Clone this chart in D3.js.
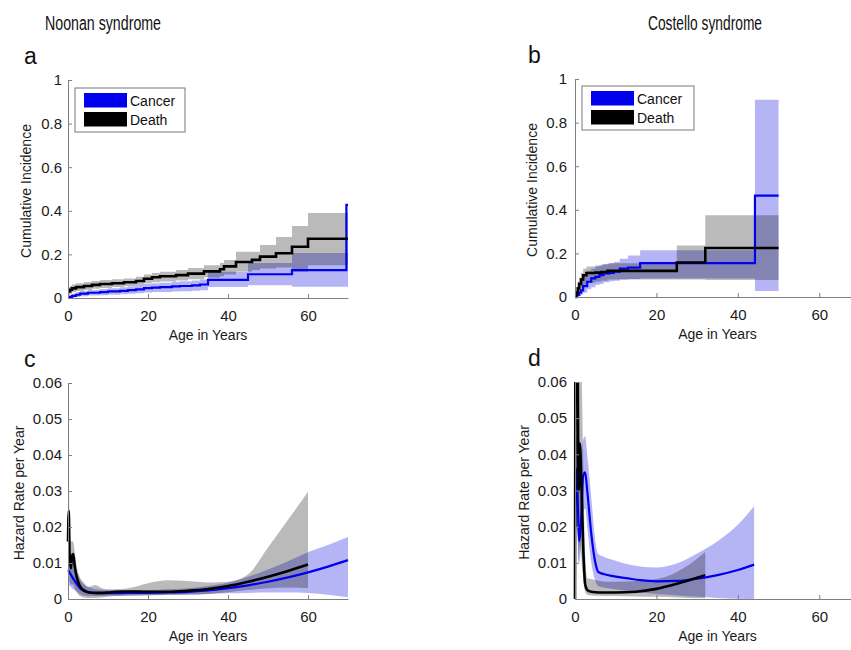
<!DOCTYPE html>
<html lang="en">
<head>
<meta charset="UTF-8">
<title>Noonan and Costello syndrome</title>
<style>
  body { margin: 0; background: #fff; }
  svg { font-family: "Liberation Sans", Arial, sans-serif; }
  .domain { stroke: #808080; stroke-width: 1px; }
  .tick line { stroke: #808080; }
  .tick text { font-size: 15px; fill: #1a1a1a; }
  .syn { font-family: "Liberation Sans Narrow", "Arial Narrow", sans-serif; font-size: 20px; fill: #111; text-anchor: middle; }
  .letter { font-size: 23px; fill: #111; }
  .atitle { font-size: 14px; fill: #1a1a1a; text-anchor: middle; }
  .lg text { font-size: 14px; fill: #111; }
</style>
</head>
<body>
<script src="https://d3js.org/d3.v7.min.js"></script>
<script>
// ---- data ----
const xTicks = [0, 20, 40, 60];
const ciTicks = [0, 0.2, 0.4, 0.6, 0.8, 1];
const hzTicks = [0, 0.01, 0.02, 0.03, 0.04, 0.05, 0.06];

// a: Noonan cumulative incidence
const nsDeathT  = [0, 0.5, 1, 2, 4, 6, 8, 11, 14, 17, 19, 21, 23, 27, 30, 34, 38, 39, 42, 46, 48, 52, 56, 60, 70];
const nsDeath   = [0.03, 0.038, 0.044, 0.05, 0.055, 0.06, 0.064, 0.068, 0.072, 0.078, 0.088, 0.095, 0.1, 0.105, 0.112, 0.122, 0.132, 0.145, 0.165, 0.175, 0.19, 0.205, 0.235, 0.272, 0.272];
const nsDeathLo = [0.01, 0.02, 0.026, 0.032, 0.037, 0.042, 0.046, 0.05, 0.054, 0.058, 0.066, 0.072, 0.076, 0.08, 0.086, 0.094, 0.1, 0.108, 0.122, 0.128, 0.135, 0.14, 0.12, 0.15, 0.15];
const nsDeathHi = [0.05, 0.056, 0.062, 0.068, 0.073, 0.078, 0.082, 0.086, 0.09, 0.098, 0.108, 0.115, 0.12, 0.128, 0.138, 0.15, 0.16, 0.174, 0.212, 0.212, 0.243, 0.28, 0.33, 0.39, 0.39];

const nsCancerT  = [0, 0.5, 1, 2, 3, 5, 8, 10, 13, 15, 17, 19, 21, 23, 26, 28, 31, 33, 35, 45, 56, 69.6, 70];
const nsCancer   = [0, 0.005, 0.01, 0.015, 0.02, 0.024, 0.027, 0.03, 0.033, 0.036, 0.04, 0.045, 0.048, 0.05, 0.053, 0.055, 0.058, 0.062, 0.083, 0.109, 0.128, 0.427, 0.427];
const nsCancerLo = [0, 0, 0.002, 0.005, 0.008, 0.011, 0.013, 0.015, 0.017, 0.019, 0.022, 0.025, 0.027, 0.028, 0.03, 0.031, 0.033, 0.036, 0.05, 0.058, 0.052, 0.052, 0.052];
const nsCancerHi = [0.005, 0.012, 0.02, 0.026, 0.032, 0.037, 0.041, 0.045, 0.049, 0.053, 0.058, 0.064, 0.068, 0.07, 0.074, 0.077, 0.08, 0.085, 0.12, 0.16, 0.206, 0.206, 0.206];

// b: Costello cumulative incidence
const csDeathT  = [0, 0.3, 0.7, 1, 1.5, 2, 2.8, 5, 6.5, 8, 25, 32, 50];
const csDeath   = [0, 0.02, 0.04, 0.06, 0.08, 0.1, 0.11, 0.112, 0.115, 0.12, 0.158, 0.225, 0.225];
const csDeathLo = [0, 0.005, 0.015, 0.025, 0.04, 0.055, 0.065, 0.07, 0.075, 0.08, 0.08, 0.078, 0.078];
const csDeathHi = [0, 0.04, 0.07, 0.09, 0.11, 0.13, 0.14, 0.145, 0.15, 0.155, 0.236, 0.375, 0.375];

const csCancerT  = [0, 0.5, 1, 1.5, 2, 3, 4, 5, 6, 7, 8.5, 9.5, 11, 13, 16, 44.2, 50];
const csCancer   = [0, 0.01, 0.02, 0.03, 0.05, 0.07, 0.085, 0.092, 0.1, 0.108, 0.11, 0.116, 0.13, 0.135, 0.155, 0.465, 0.465];
const csCancerLo = [0, 0, 0.005, 0.01, 0.02, 0.035, 0.045, 0.055, 0.06, 0.068, 0.072, 0.075, 0.08, 0.082, 0.085, 0.028, 0.028];
const csCancerHi = [0, 0.04, 0.06, 0.08, 0.1, 0.12, 0.13, 0.14, 0.145, 0.15, 0.155, 0.16, 0.175, 0.19, 0.215, 0.905, 0.905];

// c: Noonan hazard rate
const nhDeathT  = [0, 0.2, 0.4, 0.7, 1, 1.3, 1.7, 2.2, 3, 4, 5, 6.8, 8.5, 10, 12, 15, 20, 25, 30, 35, 40, 45, 50, 55, 60];
const nhDeath   = [0.016, 0.0245, 0.012, 0.0085, 0.012, 0.0125, 0.009, 0.006, 0.0035, 0.0024, 0.0019, 0.0017, 0.0017, 0.0018, 0.002, 0.0021, 0.002, 0.002, 0.0023, 0.0028, 0.0036, 0.0048, 0.0062, 0.0078, 0.0096];
const nhDeathLo = [0.005, 0.008, 0.005, 0.004, 0.004, 0.004, 0.003, 0.0018, 0.0008, 0.0004, 0.0003, 0.0003, 0.0004, 0.0006, 0.0008, 0.0009, 0.001, 0.0011, 0.0011, 0.0014, 0.0019, 0.0025, 0.003, 0.0032, 0.003];
const nhDeathHi = [0.025, 0.032, 0.022, 0.016, 0.016, 0.016, 0.013, 0.009, 0.006, 0.0045, 0.0034, 0.0039, 0.003, 0.0027, 0.0027, 0.003, 0.0044, 0.0052, 0.005, 0.0046, 0.0048, 0.0068, 0.0143, 0.022, 0.0298];

const nhCancerT  = [0, 0.5, 1, 2, 3, 4, 6, 8, 10, 15, 20, 25, 30, 35, 40, 45, 50, 55, 60, 65, 70];
const nhCancer   = [0.008, 0.0072, 0.0062, 0.0045, 0.003, 0.0022, 0.0017, 0.0016, 0.0016, 0.0017, 0.0017, 0.0018, 0.002, 0.0024, 0.003, 0.0038, 0.0048, 0.006, 0.0074, 0.009, 0.0108];
const nhCancerLo = [0.004, 0.0036, 0.003, 0.0022, 0.0014, 0.001, 0.0008, 0.0008, 0.0009, 0.001, 0.0011, 0.0012, 0.0013, 0.0014, 0.0016, 0.0017, 0.0018, 0.0018, 0.0017, 0.0012, 0.0005];
const nhCancerHi = [0.013, 0.012, 0.0105, 0.008, 0.0055, 0.004, 0.003, 0.0026, 0.0025, 0.0025, 0.0025, 0.0027, 0.003, 0.0036, 0.0045, 0.0062, 0.0082, 0.0105, 0.013, 0.015, 0.0172];

// d: Costello hazard rate
const chDeathT  = [0, 0.15, 0.6, 0.9, 1.2, 1.5, 2, 2.5, 3, 4, 6, 8, 10, 15, 20, 25, 28, 32];
const chDeath   = [0, 0.08, 0.07, 0.03, 0.043, 0.035, 0.015, 0.004, 0.0025, 0.002, 0.0018, 0.0018, 0.0018, 0.002, 0.0028, 0.0042, 0.0052, 0.0066];
const chDeathLo = [0, 0.02, 0.02, 0.01, 0.015, 0.012, 0.006, 0.002, 0.0012, 0.001, 0.0009, 0.0008, 0.0008, 0.0007, 0.0006, 0.0004, 0.0003, 0.0002];
const chDeathHi = [0.02, 0.09, 0.09, 0.08, 0.08, 0.07, 0.04, 0.012, 0.0058, 0.0055, 0.005, 0.0048, 0.0048, 0.005, 0.0055, 0.0075, 0.0095, 0.013];

const chCancerT  = [0, 0.3, 0.6, 1, 1.5, 2, 2.5, 3, 4, 5, 5.7, 7, 10, 13, 16, 20, 25, 30, 35, 40, 44];
const chCancer   = [0.02, 0.036, 0.03, 0.016, 0.022, 0.034, 0.035, 0.03, 0.018, 0.01, 0.0075, 0.0069, 0.0062, 0.0057, 0.0052, 0.0049, 0.005, 0.0056, 0.0066, 0.008, 0.0095];
const chCancerLo = [0, 0.02, 0.018, 0.01, 0.015, 0.024, 0.025, 0.02, 0.01, 0.005, 0.0036, 0.0032, 0.0027, 0.0022, 0.0018, 0.0014, 0.001, 0.0006, 0.0003, 0.0001, 0];
const chCancerHi = [0.03, 0.045, 0.042, 0.03, 0.035, 0.044, 0.045, 0.04, 0.028, 0.016, 0.0125, 0.0117, 0.0106, 0.0096, 0.009, 0.0087, 0.0098, 0.0126, 0.016, 0.0205, 0.0257];

const series = (t, v, lo, hi) => t.map((d, i) => ({ t: d, v: v[i], lo: lo[i], hi: hi[i] }));

const blue = '#0000ee';
const bandBlue = 'rgba(0,0,225,0.29)';
const bandGrey = 'rgba(0,0,0,0.27)';

let svg = d3.select('body').append('svg')
  .attr('width', 851)
  .attr('height', 650);

// column titles, squeezed to the narrow face of the original
svg.append('text').attr('class', 'syn').attr('x', 103).attr('y', 30)
  .attr('textLength', 116).attr('lengthAdjust', 'spacingAndGlyphs').text('Noonan syndrome');
svg.append('text').attr('class', 'syn').attr('x', 705).attr('y', 30)
  .attr('textLength', 114).attr('lengthAdjust', 'spacingAndGlyphs').text('Costello syndrome');

function panel(p) {
  let g = svg.append('g').attr('transform', `translate(${p.l},${p.t})`);
  let x = d3.scaleLinear().domain([0, 70]).range([0, p.w]);
  let y = d3.scaleLinear().domain([0, p.ymax]).range([p.h, 0]);
  let curve = p.step ? d3.curveStepAfter : d3.curveMonotoneX;

  g.append('clipPath').attr('id', 'clip' + p.id)
    .append('rect').attr('x', -2).attr('y', 0).attr('width', p.w + 4).attr('height', p.h + 3);
  let plot = g.append('g').attr('clip-path', `url(#clip${p.id})`);

  let area = d3.area().curve(curve).x(d => x(d.t)).y0(d => y(d.lo)).y1(d => y(d.hi));
  let line = d3.line().curve(curve).x(d => x(d.t)).y(d => y(d.v));

  plot.append('path').attr('d', area(p.cancer)).attr('fill', bandBlue);
  plot.append('path').attr('d', area(p.death)).attr('fill', bandGrey);
  plot.append('path').attr('d', line(p.cancer)).attr('fill', 'none')
    .attr('stroke', blue).attr('stroke-width', 2.2);
  plot.append('path').attr('d', line(p.death)).attr('fill', 'none')
    .attr('stroke', '#000').attr('stroke-width', 2.6);

  g.append('g').attr('transform', `translate(0,${p.h})`)
    .call(d3.axisBottom(x).tickValues(xTicks).tickSizeInner(-4).tickSizeOuter(0).tickPadding(12))
    .call(a => a.selectAll('.tick text').attr('dy', '0.71em'));
  g.append('g')
    .call(d3.axisLeft(y).tickValues(p.yTicks).tickFormat(d => String(d)).tickSizeInner(-4).tickSizeOuter(0).tickPadding(p.pad));
  g.selectAll('.domain').attr('stroke', '#808080');

  g.append('text').attr('class', 'atitle').attr('x', p.w / 2).attr('y', p.h + 42).text('Age in Years');
  g.append('text').attr('class', 'atitle')
    .attr('transform', `translate(${p.yl},${p.h / 2 + 2}) rotate(-90)`)
    .text(p.ylabel);

  svg.append('text').attr('class', 'letter').attr('x', p.lx).attr('y', p.t - 16).text(p.id);

  if (p.legend) {
    let lg = g.append('g').attr('class', 'lg').attr('transform', `translate(${p.legend[0]},${p.legend[1]})`);
    lg.append('rect').attr('width', p.legend[2]).attr('height', 44)
      .attr('fill', '#fff').attr('stroke', '#777');
    [['Cancer', blue, 5], ['Death', '#000', 24]].forEach(([name, c, dy]) => {
      lg.append('rect').attr('x', 9).attr('y', dy).attr('width', 43).attr('height', 14.5).attr('fill', c);
      lg.append('text').attr('x', 55).attr('y', dy + 13).text(name);
    });
  }
}

panel({ id: 'a', l: 68, t: 80, w: 280, h: 218, ymax: 1, yTicks: ciTicks, pad: 6, step: true,
  ylabel: 'Cumulative Incidence', yl: -37, lx: 24, legend: [7, 8, 110],
  death: series(nsDeathT, nsDeath, nsDeathLo, nsDeathHi),
  cancer: series(nsCancerT, nsCancer, nsCancerLo, nsCancerHi) });

panel({ id: 'b', l: 575, t: 79, w: 285, h: 218, ymax: 1, yTicks: ciTicks, pad: 8, step: true,
  ylabel: 'Cumulative Incidence', yl: -38, lx: 528, legend: [7, 7, 112],
  death: series(csDeathT, csDeath, csDeathLo, csDeathHi),
  cancer: series(csCancerT, csCancer, csCancerLo, csCancerHi) });

panel({ id: 'c', l: 68, t: 383, w: 280, h: 216, ymax: 0.06, yTicks: hzTicks, pad: 6, step: false,
  ylabel: 'Hazard Rate per Year', yl: -44.5, lx: 24,
  death: series(nhDeathT, nhDeath, nhDeathLo, nhDeathHi),
  cancer: series(nhCancerT, nhCancer, nhCancerLo, nhCancerHi) });

panel({ id: 'd', l: 575, t: 382, w: 285, h: 217, ymax: 0.06, yTicks: hzTicks, pad: 8, step: false,
  ylabel: 'Hazard Rate per Year', yl: -46.5, lx: 528,
  death: series(chDeathT, chDeath, chDeathLo, chDeathHi),
  cancer: series(chCancerT, chCancer, chCancerLo, chCancerHi) });
</script>
</body>
</html>
